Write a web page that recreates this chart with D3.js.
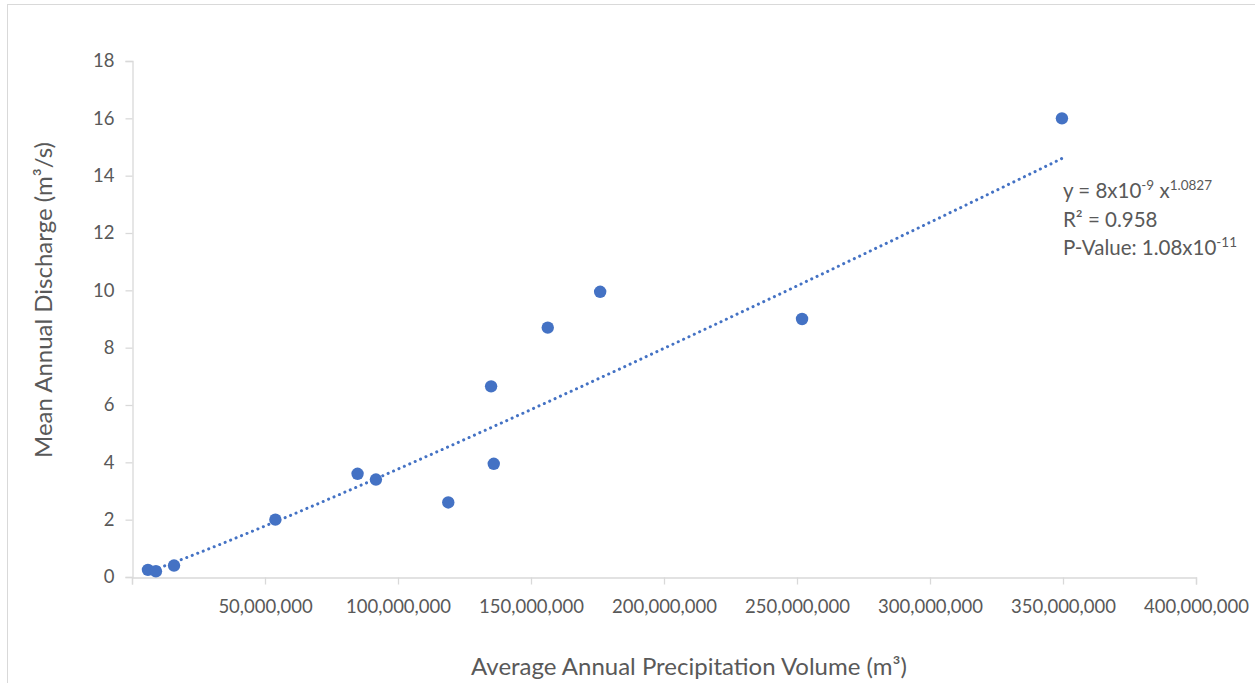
<!DOCTYPE html>
<html>
<head>
<meta charset="utf-8">
<script src="https://cdn.jsdelivr.net/npm/d3@7"></script>
<style>
  body { margin: 0; background: #fff; }
  svg { display: block; }
</style>
</head>
<body>
<svg id="chart" width="1255" height="683"></svg>
<script>
// precipitation volume (m3) and discharge (m3/s) per basin
const precipVolume = [6.0e6, 9.0e6, 15.8e6, 53.9e6, 84.8e6, 91.7e6, 118.9e6, 136.0e6, 135.0e6, 156.3e6, 176.0e6, 251.9e6, 349.6e6];
const discharge = [0.25, 0.2, 0.4, 2.0, 3.6, 3.4, 2.6, 3.95, 6.65, 8.7, 9.95, 9.0, 16.0];
const xTicks = [0, 50e6, 100e6, 150e6, 200e6, 250e6, 300e6, 350e6, 400e6];
const yTicks = [0, 2, 4, 6, 8, 10, 12, 14, 16, 18];
const trendExponent = 1.0827;

const blue = "#4472C4";
const grey = "#595959";
const axisGrey = "#D9D9D9";
const font = "Lato, 'Open Sans', sans-serif";

const svg = d3.select("#chart");

// outer chart frame
svg.append("rect")
    .attr("x", 7.5).attr("y", 4.5)
    .attr("width", 1300).attr("height", 700)
    .attr("fill", "none")
    .attr("stroke", axisGrey);

const x = d3.scaleLinear().domain([0, 400e6]).range([132, 1196]);
const y = d3.scaleLinear().domain([0, 18]).range([577, 61]);

const xAxis = svg.append("g")
    .attr("transform", "translate(0,577.5)")
    .call(d3.axisBottom(x)
        .tickValues(xTicks)
        .tickSize(7)
        .tickPadding(15)
        .tickFormat(d => d === 0 ? "" : d3.format(",")(d)));

const yAxis = svg.append("g")
    .attr("transform", "translate(132.5,0)")
    .call(d3.axisLeft(y)
        .tickValues(yTicks)
        .tickSize(7)
        .tickPadding(11));

[xAxis, yAxis].forEach(g => {
    g.select(".domain").attr("stroke", axisGrey).attr("stroke-width", 1.3);
    g.selectAll(".tick line").attr("stroke", axisGrey).attr("stroke-width", 1.3);
    g.selectAll(".tick text")
        .attr("fill", grey)
        .style("font-family", font)
        .style("font-size", "18.5px");
});

// power trendline: exponent from the chart's equation, coefficient fitted in log space
const lx = precipVolume.map(Math.log), ly = discharge.map(Math.log);
const a = Math.exp(d3.mean(ly) - trendExponent * d3.mean(lx));
const [xmin, xmax] = d3.extent(precipVolume);
const trend = d3.range(0, 101).map(i => {
    const xv = xmin + (xmax - xmin) * i / 100;
    return [xv, a * Math.pow(xv, trendExponent)];
});

svg.append("path")
    .datum(trend)
    .attr("fill", "none")
    .attr("stroke", blue)
    .attr("stroke-width", 3)
    .attr("stroke-linecap", "round")
    .attr("stroke-dasharray", "0.1 5.8")
    .attr("d", d3.line().x(d => x(d[0])).y(d => y(d[1])));

svg.append("g")
    .selectAll("circle")
    .data(precipVolume)
    .enter()
    .append("circle")
    .attr("cx", d => x(d))
    .attr("cy", (d, i) => y(discharge[i]))
    .attr("r", 6.2)
    .attr("fill", blue);

// axis titles
svg.append("text")
    .attr("x", 689)
    .attr("y", 675)
    .attr("text-anchor", "middle")
    .attr("fill", grey)
    .style("font-family", font)
    .style("font-size", "24px")
    .text("Average Annual Precipitation Volume (m³)");

svg.append("text")
    .attr("transform", "translate(52,300) rotate(-90)")
    .attr("text-anchor", "middle")
    .attr("fill", grey)
    .style("font-family", font)
    .style("font-size", "24px")
    .text("Mean Annual Discharge (m³/s)");

// equation annotation
const note = svg.append("text")
    .attr("fill", grey)
    .style("font-family", font)
    .style("font-size", "20.5px");

const l1 = note.append("tspan").attr("x", 1063).attr("y", 198);
l1.append("tspan").text("y = 8x10");
l1.append("tspan").attr("baseline-shift", "super").style("font-size", "13.5px").text("-9");
l1.append("tspan").text(" x");
l1.append("tspan").attr("baseline-shift", "super").style("font-size", "13.5px").text("1.0827");

note.append("tspan").attr("x", 1063).attr("y", 227).text("R² = 0.958");

const l3 = note.append("tspan").attr("x", 1063).attr("y", 255);
l3.append("tspan").text("P-Value: 1.08x10");
l3.append("tspan").attr("baseline-shift", "super").style("font-size", "13.5px").text("-11");
</script>
</body>
</html>
